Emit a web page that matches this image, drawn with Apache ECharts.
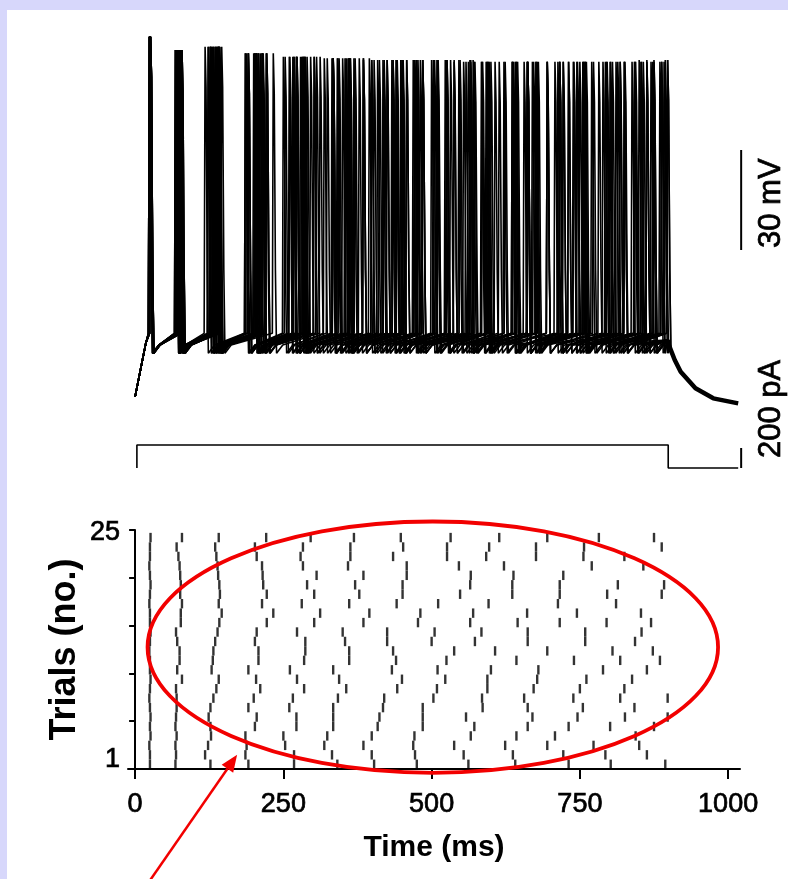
<!DOCTYPE html>
<html><head><meta charset="utf-8">
<script src="https://cdn.jsdelivr.net/npm/echarts@6/dist/echarts.min.js"></script>
<style>
html,body{margin:0;padding:0;background:#d7d7fb;overflow:hidden;}
#white{position:absolute;left:7px;top:10px;width:781px;height:869px;background:#fff;}
#chart{position:absolute;left:0;top:0;width:788px;height:879px;}
</style></head><body>
<div id="white"></div><div id="chart"></div>
<script>
// ---- data ----
const timeTicks = [0, 250, 500, 750, 1000];      // ms
const trialLabelValues = [1, 25];
// spike times (ms) for each trial (trial 1 = bottom row)
const trial1  = [25, 68, 127, 191, 268, 341, 403, 475, 562, 641, 731, 802, 894];
const trial2  = [25, 69, 118, 186, 268, 332, 399, 472, 554, 637, 722, 793, 863];
const trial3  = [24, 68, 123, 188, 253, 319, 385, 469, 538, 624, 695, 773, 850];
const trial4  = [26, 70, 128, 186, 250, 324, 399, 471, 566, 643, 708, 844];
const trial5  = [25, 68, 127, 202, 272, 334, 409, 485, 572, 662, 731, 801, 875];
const trial6  = [26, 69, 124, 205, 272, 334, 412, 485, 558, 670, 746, 826, 898];
const trial7  = [25, 70, 127, 191, 260, 334, 418, 485, 586, 662, 755, 842];
const trial8  = [24, 70, 132, 200, 266, 342, 420, 503, 585, 656, 739, 818, 898];
const trial9  = [25, 69, 137, 211, 285, 356, 442, 509, 594, 672, 750, 825];
const trial10 = [26, 79, 141, 204, 273, 344, 450, 523, 594, 678, 761, 838];
const trial11 = [25, 71, 129, 191, 261, 334, 433, 510, 600, 680, 789, 863];
const trial12 = [25, 75, 131, 208, 285, 361, 440, 525, 643, 740, 818, 885];
const trial13 = [24, 75, 132, 208, 287, 361, 435, 538, 607, 695, 805, 873];
const trial14 = [25, 71, 135, 202, 287, 354, 425, 500, 573, 662, 759, 843];
const trial15 = [26, 69, 139, 205, 273, 350, 425, 505, 584, 662, 759, 854];
const trial16 = [25, 77, 142, 222, 302, 385, 477, 565, 645, 716, 795, 870];
const trial17 = [25, 77, 146, 233, 312, 395, 481, 570, 661, 745, 853];
const trial18 = [24, 79, 141, 214, 281, 361, 441, 511, 596, 713, 811];
const trial19 = [25, 76, 143, 222, 302, 378, 451, 548, 636, 716, 796, 888];
const trial20 = [26, 77, 142, 216, 290, 371, 451, 565, 636, 716, 814, 892];
const trial21 = [25, 76, 140, 215, 306, 385, 458, 566, 638, 722];
const trial22 = [24, 75, 139, 214, 283, 359, 458, 546, 622, 770, 857];
const trial23 = [25, 73, 137, 205, 279, 363, 435, 526, 592, 676, 756, 825];
const trial24 = [25, 70, 135, 202, 283, 363, 452, 526, 597, 676, 757, 888];
const trial25 = [26, 79, 141, 221, 296, 369, 448, 532, 614, 695, 782, 875];
const trials = [trial1, trial2, trial3, trial4, trial5, trial6, trial7, trial8, trial9, trial10,
  trial11, trial12, trial13, trial14, trial15, trial16, trial17, trial18, trial19, trial20,
  trial21, trial22, trial23, trial24, trial25];

// membrane potential landmarks (mV)
const spikePeaksMV = [25, 21, 22, 20, 19, 18.5, 18, 18, 17.5, 17.5, 17.5, 17.5, 18];
const thresholdMV = -64, ahpMV = -70, recoveryMV = -67.5;
const preStepTrace = [[0, -83], [18, -67]];
const stepEndMV = -66;
const decayTrace = [[898, -66], [899, -67], [910, -72], [920, -75.5], [945, -80.5], [975, -83.5], [1017, -85]];
// injected current (pA)
const currentTrace = [[3, 0], [3, 230], [899, 230], [899, 0], [1017, 0]];
// scale bars
const scaleBarMV = [[1022, -39], [1022, -9]];
const scaleBarPA = [[1022, 0], [1022, 200]];
// annotations (raster data units)
const ellipseCenter = [502, 12.9], ellipseRadius = [481, 13.3];
const arrowTail = [25, -11.8], arrowTip = [172, 1.5];

// ---- build ----
const FONT = '"Liberation Sans", Arial, Helvetica, sans-serif';
const heavy = {textBorderColor: '#000', textBorderWidth: 0.7};
function voltageTrace(spikes) {
  const pts = preStepTrace.map(p => p.slice());
  spikes.forEach((s, i) => {
    const pk = spikePeaksMV[Math.min(i, spikePeaksMV.length - 1)];
    pts.push([s - 1.6, thresholdMV], [s, pk], [s + 1.6, pk - 12], [s + 3.6, -45], [s + 5.5, ahpMV]);
    const next = i + 1 < spikes.length ? spikes[i + 1] : 899;
    if (next - s > 20) pts.push([s + 16, recoveryMV]);
  });
  pts.push([898, stepEndMV]);
  return pts;
}

const series = [];
trials.forEach(tr => {
  series.push({type: 'line', xAxisIndex: 0, yAxisIndex: 0, data: voltageTrace(tr), symbol: 'none',
    lineStyle: {color: '#000', width: 1.6}, silent: true, clip: false});
});
series.push({type: 'line', xAxisIndex: 0, yAxisIndex: 0, data: decayTrace, symbol: 'none',
  lineStyle: {color: '#000', width: 4.5}, clip: false});
series.push({type: 'line', xAxisIndex: 1, yAxisIndex: 1, data: currentTrace, symbol: 'none',
  lineStyle: {color: '#000', width: 1.6}, clip: false});
series.push({type: 'line', xAxisIndex: 0, yAxisIndex: 0, data: scaleBarMV, symbol: 'none',
  lineStyle: {color: '#000', width: 2}, clip: false});
series.push({type: 'line', xAxisIndex: 1, yAxisIndex: 1, data: scaleBarPA, symbol: 'none',
  lineStyle: {color: '#000', width: 2}, clip: false});
const rasterData = [];
trials.forEach((tr, k) => tr.forEach(t => rasterData.push([t, k + 0.5])));
series.push({type: 'scatter', xAxisIndex: 2, yAxisIndex: 2, data: rasterData, symbol: 'rect',
  symbolSize: [2.4, 9.4], itemStyle: {color: '#000'}, clip: false});

const hiddenX = (g, min, max) => ({type: 'value', gridIndex: g, min, max, show: false});
const rasterMax = 25.3;
const option = {
  animation: false,
  grid: [
    {left: 128, top: 20, width: 617.9, height: 400},
    {left: 128, top: 438, width: 617.9, height: 40},
    {left: 128, top: 530, width: 612, height: 239}
  ],
  xAxis: [
    hiddenX(0, -12, 1030), hiddenX(1, -12, 1030),
    {type: 'value', gridIndex: 2, min: -12, max: 1020,
      axisLine: {lineStyle: {color: '#000', width: 2}},
      axisTick: {customValues: timeTicks, length: 10, lineStyle: {color: '#000', width: 2}},
      axisLabel: Object.assign({customValues: timeTicks, formatter: v => String(v), color: '#000', fontSize: 27, fontFamily: FONT, margin: 22}, heavy),
      splitLine: {show: false},
      name: 'Time (ms)', nameLocation: 'middle', nameGap: 64, nameMoveOverlap: false,
      nameTextStyle: {color: '#000', fontSize: 30, fontWeight: 'bold', fontFamily: FONT}}
  ],
  yAxis: [
    {type: 'value', gridIndex: 0, min: -90, max: 30, show: false},
    {type: 'value', gridIndex: 1, min: -100, max: 300, show: false},
    {type: 'value', gridIndex: 2, min: 0, max: rasterMax,
      axisLine: {onZero: true, lineStyle: {color: '#000', width: 2}},
      axisTick: {customValues: [0, 1, 2, 3, 4, 5].map(i => i * rasterMax / 5), length: 6, lineStyle: {color: '#000', width: 2}},
      axisLabel: Object.assign({customValues: trialLabelValues, formatter: v => String(v), color: '#000', fontSize: 27, fontFamily: FONT, margin: 8}, heavy),
      splitLine: {show: false},
      name: 'Trials (no.)', nameLocation: 'middle', nameGap: 45, nameMoveOverlap: false,
      nameTextStyle: {color: '#000', fontSize: 36, fontWeight: 'bold', fontFamily: FONT}}
  ],
  series
};
const chart = echarts.init(document.getElementById('chart'), null, {renderer: 'canvas'});
chart.setOption(option);

// ---- annotations placed through the axes ----
const rP = v => chart.convertToPixel({xAxisIndex: 2, yAxisIndex: 2}, v);
const c = rP(ellipseCenter);
const ex = rP([ellipseCenter[0] + ellipseRadius[0], ellipseCenter[1] + ellipseRadius[1]]);
const tail = rP(arrowTail), tip = rP(arrowTip);
const dx = tip[0] - tail[0], dy = tip[1] - tail[1], len = Math.hypot(dx, dy);
const ux = dx / len, uy = dy / len, hl = 17, hw = 7;
const base = [tip[0] - ux * hl, tip[1] - uy * hl];
const mvBar = chart.convertToPixel({xAxisIndex: 0, yAxisIndex: 0}, scaleBarMV[0]);
const paBar = chart.convertToPixel({xAxisIndex: 1, yAxisIndex: 1}, scaleBarPA[0]);
const red = '#f20000';
const barText = (txt, x, y) => ({type: 'text', x, y, rotation: Math.PI / 2,
  style: {text: txt, font: '31px ' + FONT, fill: '#000', stroke: '#000', lineWidth: 0.7,
    textAlign: 'left', textVerticalAlign: 'middle', align: 'left', verticalAlign: 'middle'}});
chart.setOption({graphic: [
  {type: 'ellipse', shape: {cx: c[0], cy: c[1], rx: ex[0] - c[0], ry: c[1] - ex[1]},
    style: {fill: 'none', stroke: red, lineWidth: 3.8}, z: 100},
  {type: 'line', shape: {x1: tail[0], y1: tail[1], x2: base[0], y2: base[1]},
    style: {stroke: red, lineWidth: 2.5}, z: 100},
  {type: 'polygon', shape: {points: [tip, [base[0] - uy * hw, base[1] + ux * hw], [base[0] + uy * hw, base[1] - ux * hw]]},
    style: {fill: red}, z: 100},
  barText('30 mV', mvBar[0] + 30, mvBar[1] - 2),
  barText('200 pA', paBar[0] + 30, paBar[1] - 10)
]});
</script>
</body></html>
